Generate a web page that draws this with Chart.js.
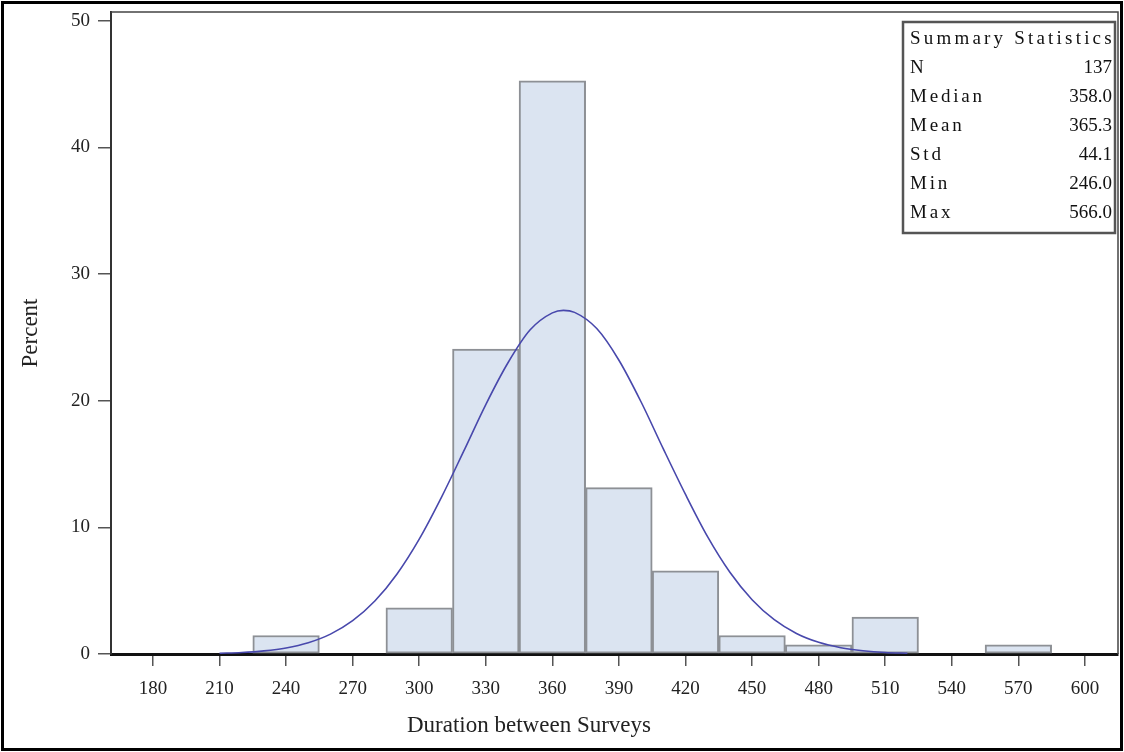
<!DOCTYPE html>
<html>
<head>
<meta charset="utf-8">
<script src="https://cdn.jsdelivr.net/npm/chart.js@4/dist/chart.umd.min.js"></script>
<style>
  html, body { margin: 0; padding: 0; background: #fff; }
  #wrap { width: 1124px; height: 752px; }
</style>
</head>
<body>
<div id="wrap"><canvas id="hist" width="1124" height="752"></canvas></div>
<script>
// histogram bins (midpoints) and percent per bin
const binMids = [240, 300, 330, 360, 390, 420, 450, 480, 510, 570];
const binPct = [1.46, 3.65, 24.09, 45.26, 13.14, 6.57, 1.46, 0.73, 2.92, 0.73];

// fitted normal curve
const curveX = [210, 220, 230, 240, 250, 260, 270, 280, 290, 300, 310, 320, 330, 340, 350, 360, 365, 370, 380, 390, 400, 410, 420, 430, 440, 450, 460, 470, 480, 490, 500, 510, 520];
const curveY = [0.06, 0.12, 0.25, 0.48, 0.89, 1.57, 2.63, 4.18, 6.32, 9.07, 12.37, 16.0, 19.7, 23.0, 25.6, 26.94, 27.14, 26.98, 25.7, 23.2, 19.9, 16.2, 12.6, 9.25, 6.46, 4.29, 2.71, 1.62, 0.92, 0.50, 0.26, 0.12, 0.06];

const xTicks = [180, 210, 240, 270, 300, 330, 360, 390, 420, 450, 480, 510, 540, 570, 600];
const yTicks = [0, 10, 20, 30, 40, 50];

const statLabels = ['N', 'Median', 'Mean', 'Std', 'Min', 'Max'];
const statValues = ['137', '358.0', '365.3', '44.1', '246.0', '566.0'];

const FONT = '"Liberation Serif", "DejaVu Serif", serif';

const extras = {
  id: 'extras',
  afterDraw(chart) {
    const ctx = chart.ctx;
    const a = chart.chartArea;
    ctx.save();
    // frame top and right
    ctx.strokeStyle = '#444';
    ctx.lineWidth = 1.5;
    ctx.beginPath();
    ctx.moveTo(a.left, a.top);
    ctx.lineTo(a.right, a.top);
    ctx.lineTo(a.right, a.bottom);
    ctx.stroke();

    // stats box
    const bx = 903, by = 22, bw = 212, bh = 211;
    ctx.fillStyle = '#fff';
    ctx.fillRect(bx, by, bw, bh);
    ctx.strokeStyle = '#555';
    ctx.lineWidth = 2.5;
    ctx.strokeRect(bx, by, bw, bh);
    ctx.fillStyle = '#111';
    ctx.font = '19px ' + FONT;
    ctx.textBaseline = 'middle';
    ctx.textAlign = 'left';
    ctx.letterSpacing = '3.2px';
    ctx.fillText('Summary Statistics', bx + 7, by + 17);
    statLabels.forEach((lab, i) => {
      const yy = by + 46 + i * 29;
      ctx.textAlign = 'left';
      ctx.letterSpacing = '2.8px';
      ctx.fillText(lab, bx + 7, yy);
      ctx.textAlign = 'right';
      ctx.letterSpacing = '0px';
      ctx.fillText(statValues[i], bx + bw - 3, yy);
    });

    // x title
    ctx.textAlign = 'center';
    ctx.font = '23px ' + FONT;
    ctx.fillStyle = '#222';
    ctx.fillText('Duration between Surveys', 529, 726);

    // outer border
    ctx.strokeStyle = '#000';
    ctx.lineWidth = 3;
    ctx.strokeRect(2.5, 2.5, chart.width - 5, chart.height - 5);
    ctx.restore();
  }
};

new Chart(document.getElementById('hist'), {
  type: 'bar',
  data: {
    datasets: [{
      type: 'line',
      data: curveX.map((x, i) => ({x: x, y: curveY[i]})),
      borderColor: '#4848ac',
      borderWidth: 1.6,
      pointRadius: 0,
      cubicInterpolationMode: 'monotone',
      fill: false,
      order: 0
    }, {
      type: 'bar',
      data: binMids.map((x, i) => ({x: x, y: binPct[i]})),
      backgroundColor: '#dbe4f1',
      borderColor: '#8d9095',
      borderWidth: 2,
      borderSkipped: false,
      barPercentage: 1,
      categoryPercentage: 1,
      grouped: false,
      order: 1
    }]
  },
  options: {
    responsive: false,
    animation: false,
    devicePixelRatio: 1,
    layout: { padding: { left: 0, top: 12, right: 6, bottom: 0 } },
    plugins: { legend: { display: false }, tooltip: { enabled: false } },
    scales: {
      x: {
        type: 'linear',
        offset: false,
        min: 161.1,
        max: 614.9,
        afterBuildTicks: s => { s.ticks = xTicks.map(v => ({value: v})); },
        afterFit: s => { s.height = 98; s.paddingLeft = 0; s.paddingRight = 0; },
        grid: { display: true, drawOnChartArea: false, drawTicks: true, tickLength: 12, color: '#555', lineWidth: 1.5, offset: false },
        border: { display: true, color: '#111', width: 3 },
        ticks: { font: { family: FONT, size: 19 }, color: '#222', padding: 12, maxRotation: 0, autoSkip: false }
      },
      y: {
        min: 0,
        max: 50.7,
        afterBuildTicks: s => { s.ticks = yTicks.map(v => ({value: v})); },
        afterFit: s => { s.width = 111; s.paddingTop = 0; s.paddingBottom = 0; },
        grid: { display: true, drawOnChartArea: false, drawTicks: true, tickLength: 13, color: '#555', lineWidth: 1.5 },
        border: { display: true, color: '#333', width: 2 },
        ticks: { font: { family: FONT, size: 19 }, color: '#222', padding: 8 },
        title: { display: true, text: 'Percent', font: { family: FONT, size: 23 }, color: '#222', padding: { top: 17, bottom: 0 } }
      }
    }
  },
  plugins: [extras]
});
</script>
</body>
</html>
